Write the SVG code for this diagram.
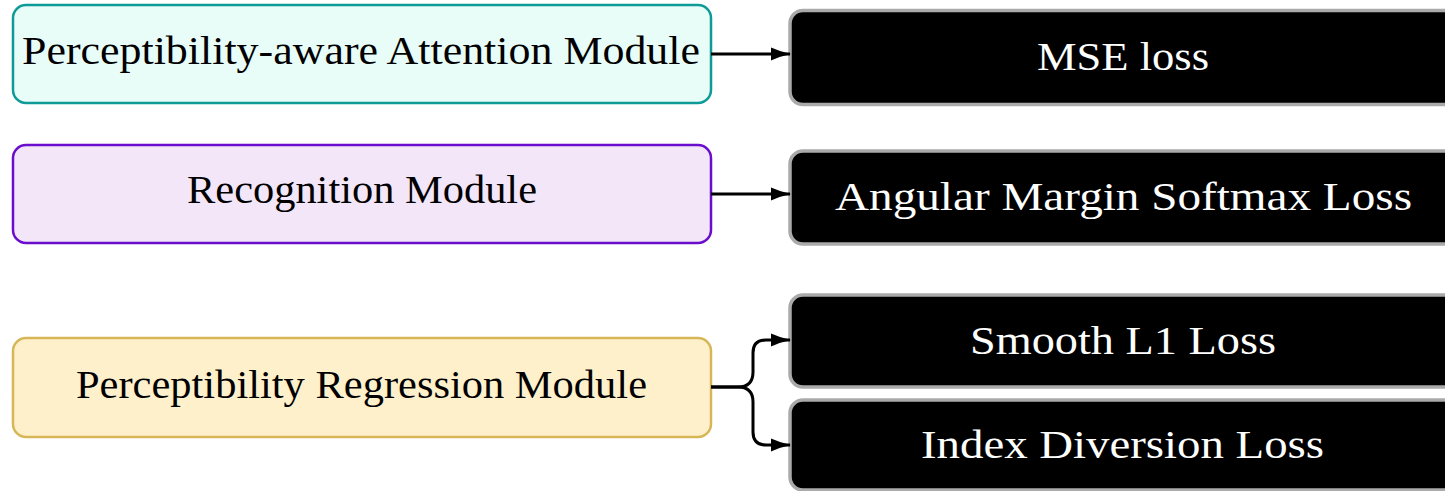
<svg xmlns="http://www.w3.org/2000/svg" width="1445" height="491" viewBox="0 0 1445 491">
<defs>
<style>
.t{font-family:"Liberation Serif","DejaVu Serif",serif;font-size:39px;text-anchor:middle}
.w{fill:#ffffff}
.k{fill:#000000}
.loss{fill:#000000;stroke:#aaaaaa;stroke-width:3.5}
.c{fill:none;stroke:#000000;stroke-width:3}
</style>
<marker id="ah" viewBox="0 0 20 14" refX="19" refY="7" markerWidth="20" markerHeight="14" markerUnits="userSpaceOnUse" orient="auto">
<path d="M0,0.5 Q10,5 20,7 Q10,9 0,13.5 Z" fill="#000"/>
</marker>
</defs>
<g id="n1">
<rect x="13" y="5" width="698" height="98" rx="13" fill="#e8fdf8" stroke="#0e9a97" stroke-width="2.5"/>
<text class="t k" x="361" y="64" textLength="678" lengthAdjust="spacingAndGlyphs">Perceptibility-aware Attention Module</text>
</g>
<g id="n2">
<rect x="13" y="145" width="698" height="98" rx="13" fill="#f3e6f8" stroke="#6a0dcc" stroke-width="2.5"/>
<text class="t k" x="362" y="203" textLength="350" lengthAdjust="spacingAndGlyphs">Recognition Module</text>
</g>
<g id="n3">
<rect x="13" y="338" width="698" height="99" rx="13" fill="#fff0cc" stroke="#d6b656" stroke-width="2.5"/>
<text class="t k" x="361.5" y="398" textLength="571" lengthAdjust="spacingAndGlyphs">Perceptibility Regression Module</text>
</g>
<g id="l1">
<rect class="loss" x="790" y="10.5" width="680" height="94" rx="13"/>
<text class="t w" x="1123" y="70" textLength="172" lengthAdjust="spacingAndGlyphs">MSE loss</text>
</g>
<g id="l2">
<rect class="loss" x="790" y="151" width="680" height="93" rx="13"/>
<text class="t w" x="1123.5" y="210" textLength="577" lengthAdjust="spacingAndGlyphs">Angular Margin Softmax Loss</text>
</g>
<g id="l3">
<rect class="loss" x="790" y="295" width="680" height="92" rx="13"/>
<text class="t w" x="1123" y="354" textLength="306" lengthAdjust="spacingAndGlyphs">Smooth L1 Loss</text>
</g>
<g id="l4">
<rect class="loss" x="790" y="400" width="680" height="90" rx="13"/>
<text class="t w" x="1122.5" y="458" textLength="403" lengthAdjust="spacingAndGlyphs">Index Diversion Loss</text>
</g>
<g id="connectors">
<path class="c" d="M711,54 L790,54" marker-end="url(#ah)"/>
<path class="c" d="M711,194 L790,194" marker-end="url(#ah)"/>
<path class="c" d="M711,387 L738,387 Q753,387 753,372 L753,353 Q753,340 766,340 L790,340" marker-end="url(#ah)"/>
<path class="c" d="M711,387 L738,387 Q753,387 753,402 L753,432 Q753,445 766,445 L790,445" marker-end="url(#ah)"/>
</g>
</svg>
